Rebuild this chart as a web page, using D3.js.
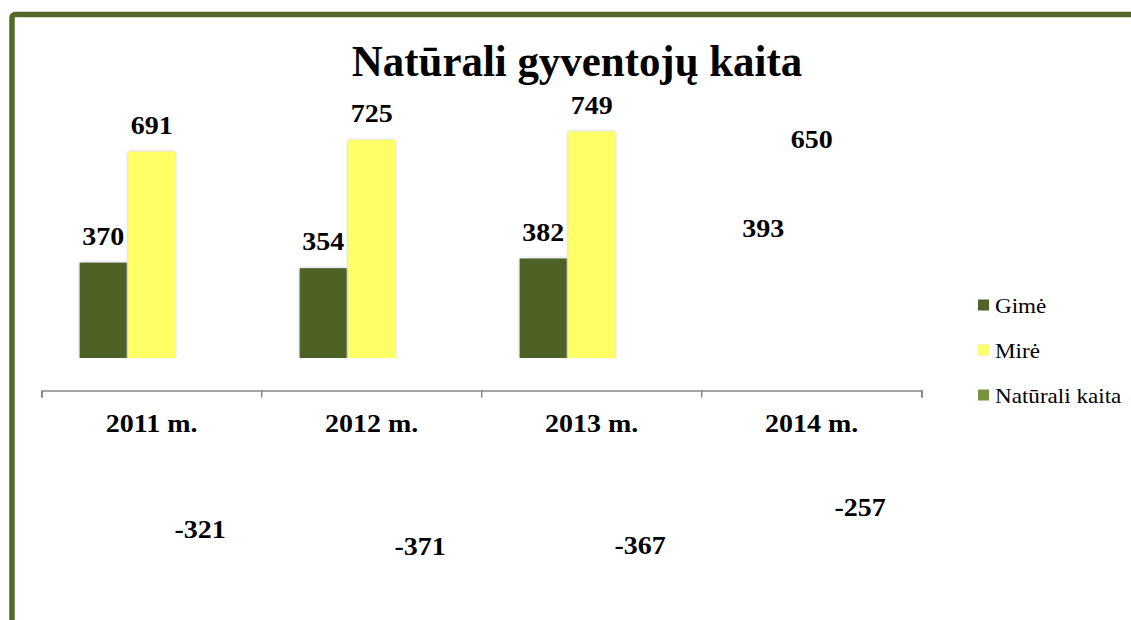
<!DOCTYPE html>
<html>
<head>
<meta charset="utf-8">
<script src="https://cdn.jsdelivr.net/npm/d3@7"></script>
<style>
  html, body { margin: 0; padding: 0; background: #fff; }
  svg { display: block; }
</style>
</head>
<body>
<script>
const categories = ["2011 m.", "2012 m.", "2013 m.", "2014 m."];
const seriesNames = ["Gimė", "Mirė", "Natūrali kaita"];
const gime = [370, 354, 382, 393];
const mire = [691, 725, 749, 650];
const kaita = [-321, -371, -367, -257];
const colors = ["#4F6228", "#FFFF66", "#77933C"];
const title = "Natūrali gyventojų kaita";

const FONT = "'Liberation Serif', 'Times New Roman', Times, serif";
const W = 1131, H = 620;
const svg = d3.select("body").append("svg").attr("width", W).attr("height", H);

const defs = svg.append("defs");
const f = defs.append("filter").attr("id", "sh").attr("x", "-20%").attr("y", "-20%").attr("width", "140%").attr("height", "140%");
f.append("feDropShadow").attr("dx", 0).attr("dy", 0).attr("stdDeviation", 1.6)
  .attr("flood-color", "#7f7f7f").attr("flood-opacity", 0.55);

// frame
svg.append("rect").attr("x", 12).attr("y", 14.5).attr("width", 1300).attr("height", 800)
  .attr("rx", 3).attr("fill", "none").attr("stroke", "#53682B").attr("stroke-width", 5.5);

const SX = 1.12;
function txt(g, x, y, s, size, weight, anchor, sx) {
  g.append("text")
    .attr("transform", `translate(${x},${y}) scale(${sx || SX},1)`)
    .attr("text-anchor", anchor || "middle")
    .attr("font-family", FONT)
    .attr("fill", "#000")
    .attr("font-size", size).attr("font-weight", weight || "bold")
    .text(s);
}

// title
txt(svg, 577, 76, title, 44, "bold", "middle", 0.975);

// scales
const x0 = d3.scaleBand().domain(categories).range([41.7, 921.7]).paddingInner(0).paddingOuter(0);
const x1 = d3.scaleBand().domain(seriesNames).range([0, x0.bandwidth()]).paddingInner(0.03).paddingOuter(0.783);
const y = d3.scaleLinear().domain([0, 800]).range([390.6, 390.6 - 800 * 0.3458]);

const rows = categories.map((c, i) => ({ cat: c, vals: [gime[i], mire[i], kaita[i]] }));

// bars (clipped like the reference render)
const clipEnd = x0("2013 m.") + x0.bandwidth();
defs.append("clipPath").attr("id", "clip").append("rect")
  .attr("x", 0).attr("y", 0).attr("width", clipEnd).attr("height", y(0) - 32.5);

const barsG = svg.append("g").attr("clip-path", "url(#clip)");
rows.forEach(r => {
  const g = barsG.append("g").attr("transform", `translate(${x0(r.cat)},0)`);
  g.selectAll("rect").data(r.vals).join("rect")
    .attr("x", (d, j) => x1(seriesNames[j]))
    .attr("width", x1.bandwidth())
    .attr("y", d => Math.min(y(d), y(0)))
    .attr("height", d => Math.abs(y(d) - y(0)))
    .attr("fill", (d, j) => colors[j])
    .attr("filter", "url(#sh)");
});

// axis
const axis = d3.axisBottom(x0).tickSize(7).tickSizeOuter(7).tickFormat("");
const axG = svg.append("g").attr("transform", `translate(0,${y(0)})`).call(axis);
axG.selectAll(".tick").remove();
const boundaries = categories.map(c => x0(c)).concat([x0(categories[categories.length - 1]) + x0.bandwidth()]);
axG.select(".domain").attr("stroke", "#868686").attr("stroke-width", 1.5);
axG.selectAll("line.b").data(boundaries).join("line").attr("class", "b")
  .attr("x1", d => d).attr("x2", d => d).attr("y1", 0).attr("y2", 7)
  .attr("stroke", "#868686").attr("stroke-width", 1.5);

categories.forEach(c => {
  txt(svg, x0(c) + x0.bandwidth() / 2, y(0) + 41, c, 25, "bold");
});

// data labels
rows.forEach(r => {
  r.vals.forEach((v, j) => {
    const cx = x0(r.cat) + x1(seriesNames[j]) + x1.bandwidth() / 2;
    const ly = v >= 0 ? y(v) - 18 : y(v) + 36.5;
    txt(svg, cx, ly, String(v), 25, "bold");
  });
});

// legend
const lg = svg.append("g");
seriesNames.forEach((s, i) => {
  const cy = 305 + i * 45;
  lg.append("rect").attr("x", 978).attr("y", cy - 5.5).attr("width", 11).attr("height", 11)
    .attr("fill", colors[i]).attr("stroke", i === 1 ? "#f2f2c0" : "none").attr("stroke-width", 0.8);
  txt(lg, 995, cy + 8, s, 22, "normal", "start", 1.05);
});
</script>
</body>
</html>
